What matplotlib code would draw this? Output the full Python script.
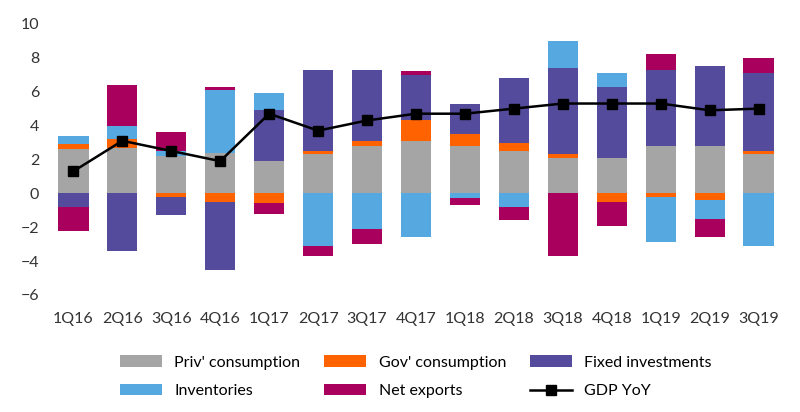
import matplotlib
matplotlib.use("Agg")
import matplotlib.pyplot as plt
import numpy as np

plt.rcParams['font.family'] = ['Lato', 'DejaVu Sans']

quarters = ["1Q16","2Q16","3Q16","4Q16","1Q17","2Q17","3Q17","4Q17","1Q18","2Q18","3Q18","4Q18","1Q19","2Q19","3Q19"]
priv = [2.6,2.7,2.2,2.4,1.9,2.3,2.8,3.1,2.8,2.5,2.1,2.1,2.8,2.8,2.3]
gov  = [0.3,0.5,-0.2,-0.5,-0.6,0.2,0.3,1.2,0.7,0.5,0.2,-0.5,-0.2,-0.4,0.2]
fixed= [-0.8,-3.4,-1.1,-4.0,3.0,4.8,4.2,2.7,1.8,3.8,5.1,4.2,4.5,4.7,4.6]
inv  = [0.5,0.8,0.3,3.7,1.0,-3.1,-2.1,-2.6,-0.3,-0.8,1.6,0.8,-2.7,-1.1,-3.1]
netx = [-1.4,2.4,1.1,0.2,-0.6,-0.6,-0.9,0.2,-0.4,-0.8,-3.7,-1.4,0.9,-1.1,0.9]
gdp  = [1.3,3.1,2.5,1.9,4.7,3.7,4.3,4.7,4.7,5.0,5.3,5.3,5.3,4.9,5.0]

series = [("Priv' consumption", priv, "#A5A5A5"),
          ("Gov' consumption", gov, "#FF6200"),
          ("Fixed investments", fixed, "#554B9C"),
          ("Inventories", inv, "#55A8E0"),
          ("Net exports", netx, "#A8005C")]

fig, ax = plt.subplots(figsize=(8, 4.12), dpi=100)
fig.subplots_adjust(left=0.055, right=0.985, top=0.942, bottom=0.284)
x = np.arange(len(quarters))
pos = np.zeros(len(x)); neg = np.zeros(len(x))
handles = []
for name, vals, col in series:
    v = np.array(vals)
    bottom = np.where(v >= 0, pos, neg)
    h = ax.bar(x, v, 0.62, bottom=bottom, color=col, label=name)
    handles.append(h)
    pos = pos + np.where(v >= 0, v, 0)
    neg = neg + np.where(v < 0, v, 0)
ln, = ax.plot(x, gdp, color="black", marker="s", markersize=7, linewidth=1.8, label="GDP YoY")
handles.append(ln)

ax.set_ylim(-6, 10)
ax.set_yticks(range(-6, 11, 2))
ax.set_xlim(-0.6, len(x) - 0.4)
ax.set_xticks(x)
ax.set_xticklabels(quarters)
for s in ax.spines.values():
    s.set_visible(False)
ax.tick_params(length=0, labelsize=11.5, colors="#333333")
ax.tick_params(axis='x', pad=12)
order = [0, 3, 1, 4, 2, 5]
ax.legend([handles[i] for i in order], [handles[i].get_label() for i in order],
          loc="upper center", bbox_to_anchor=(0.5, -0.17), ncol=3, frameon=False,
          fontsize=11.5, handlelength=2.6, columnspacing=1.5, labelspacing=0.9)
fig.savefig("out.png")
